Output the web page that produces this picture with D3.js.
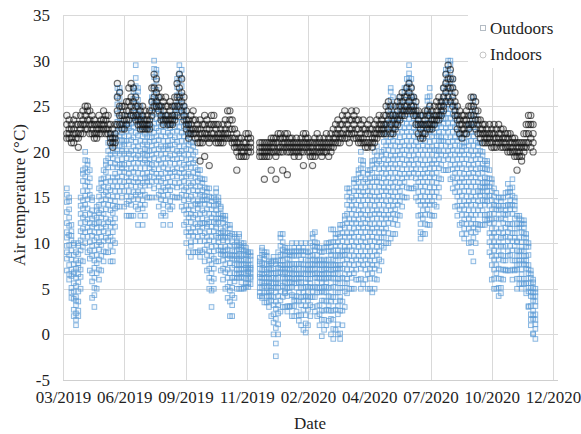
<!DOCTYPE html>
<html>
<head>
<meta charset="utf-8">
<script src="https://cdn.jsdelivr.net/npm/d3@7/dist/d3.min.js"></script>
<style>
  html, body { margin: 0; padding: 0; background: #ffffff; }
  svg { display: block; }
  text { font-family: "Liberation Serif", "Times New Roman", "DejaVu Serif", serif; fill: #1f1f1f; }
</style>
</head>
<body>
<svg id="chart" width="581" height="434"></svg>
<script>
// Axis ticks
const xTickDates = ["2019-03-26", "2019-06-14", "2019-09-02", "2019-11-21", "2020-02-09",
                    "2020-04-29", "2020-07-18", "2020-10-06", "2020-12-25"];
const xTickLabels = ["03/2019", "06/2019", "09/2019", "11/2019", "02/2020",
                     "04/2020", "07/2020", "10/2020", "12/2020"];
const yTicks = [-5, 0, 5, 10, 15, 20, 25, 30, 35];

// Logged readings: one entry every 3 days starting at firstSample,
// each entry lists the air temperatures (°C) logged around that day.
const firstSample = "2019-03-31";
const sampleStepDays = 3;

const outdoorReadings = [
  "16 13.4 11.2 9 8.3 7 10.6 14.5 12.2 15.3 9.7", "15 12.8 10.9 8.7 7.6 6 13.7 14.6 11.9 9.8 6.6",
  "12 10.3 8.2 6.4 5.1 4 9.2 11.3 7.1 4.6 10.8", "10 8.7 6.8 5.6 3.9 2 7.7 9.8 4.7 2.7 6.6",
  "9 7.2 5.3 4.1 3.2 1 2.3 8.1 6.2 1.6 3.7", "10 8.8 6.6 4.7 3.6 2 7.8 9.7 5.7 2.6 7.3",
  "15 12.2 10.3 8.1 6.3 5 13.2 14.1 11.3 9.2 7.1", "18 15.7 13.8 11.6 10.7 8 16.8 17.6 14.7 12.8 9.6",
  "20 17.3 15.2 13.1 12.3 10 18.2 19.1 16.3 14.2 11.2", "19 16.7 14.8 12.6 11.7 9 17.8 18.6 15.7 13.8 10.7",
  "18 15.3 12.2 10.1 8.3 7 13.2 17.1 16.2 11.3 9.2", "15 12.7 10.8 8.6 6.7 4 11.8 14.7 13.6 9.7 5.8",
  "13 10.3 8.1 6.2 4.3 3 11.2 12.1 9.2 7.3 5.1", "14 12.8 10.6 8.7 7.8 5 11.7 13.6 9.8 6.7 12.2",
  "16 14.2 12.3 10.1 8.2 6 13.3 15.1 11.2 9.3 7.1", "17 15.8 13.6 11.7 9.8 7 14.7 16.6 12.8 10.7 8.6",
  "18 16.2 14.3 12.1 10.2 8 15.3 17.1 13.2 11.3 9.1", "19 17.8 15.6 13.7 11.8 9 16.7 18.6 14.8 12.7 10.6",
  "21 18.3 16.1 14.2 12.3 9 17.2 20.1 19.3 15.2 11.1 10.3", "22 19.7 16.8 13.6 10.7 8 18.8 21.6 20.7 15.8 14.7 12.6 11.8 9.7",
  "21 18.3 15.1 12.2 10.3 8 17.2 20.1 19.3 16.2 14.1 13.3 11.2 9.1", "22 19.8 17.6 15.7 13.8 10 20.7 21.6 18.7 16.8 14.6 12.7 11.8",
  "27 24.2 21.3 19.1 17.2 14 22.3 26.1 25.2 23.3 20.1 18.3 16.2 15.1", "27 25.8 22.6 20.7 17.8 14 23.7 26.6 24.8 21.7 19.8 18.6 16.8 15.7",
  "23 21.3 20.1 18.2 17.3 15 19.2 22.1 16.2 20.6 18.7", "23 21.7 19.8 18.6 16.7 14 20.8 22.6 17.8 15.7 21.2",
  "24 22.3 20.1 18.2 16.3 13 21.2 23.1 19.3 17.2 15.1 14.3", "23 21.7 19.8 17.6 15.7 13 20.8 22.6 18.7 16.8 14.6",
  "24 22.3 20.1 18.2 16.3 13 19.2 23.1 21.3 17.2 15.1 14.2", "27 24.8 21.6 19.7 17.8 13 22.7 26.6 25.8 23.7 20.6 18.8 16.7 15.6 14.8",
  "29.5 26.2 23.3 21.1 18.2 14 24.3 28.1 27.2 25.3 22.1 20.2 19.3 17.1 16.2 15.3", "27 24.7 21.8 19.6 16.7 12 22.8 26.6 25.7 23.8 20.6 18.8 17.7 15.6 14.8 13.7",
  "25 23.3 20.1 18.2 15.3 13 21.2 24.1 22.3 19.2 17.1 16.3 14.2", "24 22.7 20.8 17.6 15.7 12 19.8 23.6 21.7 18.8 16.6 14.7 13.8",
  "22 20.3 19.1 17.2 15.3 13 18.2 21.1 16.3 14.2 19.7", "23 21.7 20.8 19.6 17.7 15 18.8 22.6 16.7 20.2 17.1",
  "23 22.3 20.1 18.2 17.3 15 19.2 21.1 16.3 18.7 21.6", "26 23.8 21.6 19.7 17.8 15 20.7 25.6 24.8 22.7 18.6 16.7",
  "30 27.2 24.3 22.1 20.2 16 25.3 29.1 28.2 26.3 23.1 21.2 19.3 18.1 17.2", "29 26.8 23.6 21.7 19.8 15 24.7 28.6 27.8 25.7 22.6 20.8 18.7 17.6 16.8",
  "26 24.2 21.3 19.1 17.2 14 22.3 25.1 23.2 20.3 18.1 16.2 15.3", "25 23.8 20.6 18.7 16.8 13 21.7 24.6 22.8 19.7 17.6 15.7 14.8",
  "24 22.2 19.3 17.1 14.2 12 20.3 23.1 21.2 18.3 16.1 15.2 13.3", "24 22.8 20.6 18.7 15.8 13 21.7 23.6 19.8 17.7 16.6 14.7",
  "23 21.2 20.3 18.1 16.2 14 19.3 22.1 17.2 15.3 20.7", "23 21.8 19.6 17.7 15.8 12 20.7 22.6 18.8 16.7 14.6 13.7",
  "24 22.2 20.3 18.1 16.2 14 21.3 23.1 19.2 17.3 15.1", "25 23.8 21.6 19.7 17.8 15 22.7 24.6 20.8 18.7 16.6",
  "28 25.2 22.3 20.1 18.2 15 23.3 27.1 26.2 24.3 21.1 19.2 17.3 16.1", "29.5 27.8 24.6 22.7 19.8 15 25.7 28.6 26.6 23.8 21.7 20.6 18.8 17.7 16.6",
  "29 26.2 23.3 20.1 17.2 14 24.3 28.1 27.2 25.3 22.1 21.2 19.3 18.1 16.2 15.3", "25 22.8 20.6 17.7 15.8 12 19.7 24.6 23.8 21.7 18.6 16.8 14.7 13.6",
  "24 21.2 18.3 16.1 13.2 10 20.3 23.1 22.2 19.1 17.3 15.2 14.1 12.3 11.2", "23 20.8 17.6 15.7 12.8 9 19.7 22.6 21.8 18.7 16.6 14.8 13.7 11.6 10.8",
  "22 19.2 16.3 14.1 11.2 8.5 18.3 21.1 20.2 17.3 15.1 13.2 12.3 10.1 9.7", "21 18.8 16.6 14.7 12.8 9 19.7 20.6 17.7 15.8 13.6 11.7 10.8",
  "20 17.2 15.3 13.1 11.2 9 18.3 19.1 16.2 14.3 12.1 10.2", "18 16.8 14.6 12.7 11.8 9 15.7 17.6 13.8 10.7 14.2",
  "18 16.2 14.3 12.1 10.2 8.5 15.3 17.1 13.2 11.3 9.2", "17 15.8 13.6 12.7 10.8 9 14.7 16.6 11.7 12.2 15.1",
  "17 15.2 13.3 11.1 10.2 8 14.3 16.1 12.2 9.3 14.7", "16 14.8 12.6 10.7 9.8 7 13.7 15.6 11.8 8.7 12.1",
  "16 13.2 11.3 9.1 7.2 5 12.3 15.1 14.2 10.3 8.1 6.2", "15 12.8 9.6 7.7 5.8 3 10.7 14.6 13.7 11.8 8.6 6.7 4.8",
  "15 13.2 11.3 9.1 7.2 5 12.3 14.1 10.2 8.3 6.1", "16 14.8 13.6 11.7 10.8 8 12.7 15.6 9.7 14.2 12.1",
  "15 13.2 12.3 11.1 9.2 8 14.3 10.1 12.7 14.6 10.6", "14 13.8 11.6 10.7 8.8 7 12.7 9.6 13.2 11.1 9.2",
  "13 12.2 10.3 9.1 7.2 6 11.3 8.1 12.7 10.6 8.7", "13 11.8 9.6 8.7 6.8 5 10.7 12.6 7.7 9.2 11.1",
  "12 10.2 8.3 7.1 5.2 4 9.3 11.1 6.2 8.7 10.6", "12 10.8 8.6 6.7 4.8 2 9.7 11.6 7.8 5.7 3.6",
  "11 9.2 7.3 5.1 3.2 2 8.3 10.1 6.2 4.3 8.7", "11 9.8 8.6 6.7 5.8 4 10.7 7.6 8.2 9.1 6.2",
  "10.5 9.2 8.3 7.1 6.2 5 10.1 8.6 7.7 6.6 9.7", "11 10.7 8.8 7.6 6.7 5 9.8 8.2 7.1 6.2 9.3",
  "10 9.3 8.1 7.2 6.3 5 8.6 7.7 6.6 5.7 9.6", "10 9.7 8.8 7.6 6.7 5 7.1 8.2 6.2 5.1 9.2",
  "9.5 8.2 7.3 6.1 5.2 5.6 8.7 7.6 6.7 9.1", "9 8.8 7.6 6.7 5.6 6.1 7.2 8.1 5.2 6.9",
  "9 8.2 7.3 6.1 5.5 7.6 6.7 8.6 7.1 6.3", "", "", "",
  "8 7.2 6.3 5.1 4.2 6.6 5.7 7.7 4.6 8.4", "9.5 8.7 7.8 6.6 5.7 4 7.1 9.2 6.2 5.1 4.2",
  "9 8.3 7.1 6.2 5.3 3.5 6.6 8.7 7.7 5.6 4.6", "9 7.1 6.2 5.1 4.2 3.5 8.6 7.7 6.8 5.7 4.6",
  "8 7.2 6.1 5.3 4.2 3 6.6 7.7 5.7 4.6 3.6", "8 7.8 6.7 5.6 3.7 2 4.8 7.1 6.2 5.1 4.2",
  "8.5 7.2 5.1 3.2 1.3 0 6.2 8.1 6.7 5.6 4.1 2.2", "8 6.7 4.6 2.8 0.7 -2.4 5.6 7.7 6.1 5.2 3.6 1.7 -1",
  "9 7.3 5.1 3.2 1.1 0 6.2 8.1 6.7 5.6 4.2 2.3", "11 9.7 7.6 6.8 4.7 2.5 8.7 10.6 8.1 7.2 5.6 3.7",
  "11 9.3 8.1 6.2 5.3 3 7.2 10.1 8.7 7.6 6.6 4.1", "9.5 8.7 7.6 6.8 4.5 3 5.7 9.1 7.2 6.1 5.1 4.7",
  "9.5 8.3 6.6 5.1 4.2 2.5 7.2 9.1 7.7 6.2 5.6 3.1", "9 8.7 7.6 5.1 4.6 3 6.7 8.2 7.1 6.2 5.7 3.1",
  "10 8.6 7.2 6.1 4.3 2 5.2 9.1 7.7 6.6 5.7 3.1", "9.5 8.7 6.1 5.6 3.1 2 7.7 9.1 7.2 6.6 4.1 3.7",
  "10 8.6 7.1 5.6 4.2 2.5 6.2 9.1 7.7 6.6 5.1 3.7", "9.5 8.7 6.6 5.7 3.6 1.5 7.7 9.1 7.2 6.1 4.6 2.1",
  "10 8.2 6.6 5.1 3.2 1 4.1 9.1 7.7 6.2 5.7 2.1", "9.5 8.7 6.6 4.1 3.7 0.5 7.6 9.1 7.2 5.1 4.6 2.7",
  "10 8.2 6.1 4.2 2.1 0.2 5.2 9.1 7.2 6.6 5.7 3.1 1.2", "9 7.1 6.6 4.1 3.7 1 5.2 8.1 7.6 6.1 4.6 2.7",
  "10 8.6 7.2 5.6 4.1 2 6.6 9.1 7.7 6.1 5.2 3.2", "11 9.7 7.1 6.6 4.1 3 8.7 10.6 8.2 7.6 5.1 4.7",
  "11.2 9.6 8.1 6.2 4.1 2.5 7.2 10.1 9.2 7.7 6.6 5.2", "10 8.1 7.6 5.7 3.1 2 6.7 9.6 8.7 6.2 5.1 4.6",
  "9.5 8.2 6.1 4.6 3.2 1 7.1 9.1 7.7 6.6 5.1 2.2", "9 7.1 6.6 4.7 2.6 -0.2 5.7 8.1 7.6 6.2 5.1 3.7 1.6",
  "9.5 8.2 6.1 4.6 2.6 0.5 7.1 9.1 7.7 6.6 5.2 3.7 1.6", "10 8.1 7.6 5.7 3.6 1 6.7 9.6 7.2 6.1 5.2 4.6 2.7",
  "10 8.2 6.6 5.1 3.2 1.5 7.6 9.1 7.1 6.2 4.2 2.6", "11.5 9.1 7.1 5.1 3.6 0 8.7 10.1 9.6 7.6 6.2 4.1 2.6 1.7",
  "11.5 9.2 7.1 5.2 2.6 -0.5 6.1 10.1 8.2 7.6 6.6 4.1 1.6 0.6", "11 9.7 7.6 5.7 3.6 0.5 8.6 10.6 8.1 7.2 6.7 4.6 2.7",
  "11 9.2 7.6 5.6 3.1 0 6.6 10.1 8.7 7.2 6.1 4.6 2.2 1.1", "12 10.7 8.6 5.1 3.7 -0.5 7.6 11.6 9.7 7.2 6.1 4.1 2.6 0.1",
  "12 10.2 8.1 6.2 3.6 1 9.1 11.1 8.7 7.2 5.1 2.6", "13 11.7 9.6 7.7 5.6 3 10.7 12.6 8.7 6.6 4.7 9.2",
  "16 13.2 11.1 9.2 7.1 4.5 12.2 15.1 14.2 10.1 8.2 6.1 5.6", "16 14.7 12.6 10.7 8.6 5 13.7 15.6 11.7 9.6 7.7 6.6",
  "15 13.2 11.1 9.2 7.1 5 12.2 14.1 10.2 8.1 6.2", "17 14.7 12.6 10.7 8.6 5 13.7 16.6 15.7 11.6 9.7 7.6 6.7",
  "17 15.2 13.1 11.2 9.1 6 14.2 16.1 12.2 10.1 8.2 7.1", "18 15.7 13.6 11.7 8.6 6 14.7 17.6 16.7 12.6 10.7 9.6 7.7",
  "20 17.2 14.1 11.2 8.1 5 15.2 19.1 18.2 16.1 13.2 12.1 10.2 9.1 7.2 6.1", "19 16.7 13.6 11.7 8.6 5.5 14.7 18.6 17.7 15.6 12.7 10.6 9.7 7.6",
  "17 15.2 13.1 11.2 9.1 6 12.2 16.1 14.2 10.1 8.2 7.1", "18 15.7 13.6 10.7 8.6 5 14.7 17.6 16.7 12.6 11.7 9.6 7.7 6.6",
  "18 16.2 13.1 11.2 8.1 5 15.2 17.1 14.2 12.1 10.2 9.1 7.2 6.1", "19 16.7 13.6 10.7 7.6 4.6 14.7 18.6 17.7 15.6 12.7 11.6 9.7 8.6 6.7",
  "20 17.2 14.1 11.2 8.1 5 16.2 19.1 18.2 15.1 13.2 12.1 10.2 9.1 7.2 6.1", "20.6 18.7 15.6 12.7 9.6 6 16.7 19.6 17.2 14.7 13.6 11.7 10.6 8.7 7.6",
  "19 17.2 15.1 13.2 10.1 7 16.2 18.1 14.2 12.1 11.2 9.1 8.2", "20 18.7 16.6 14.7 11.6 8 17.7 19.6 15.7 13.6 12.7 10.6 9.7",
  "22 20.2 17.1 15.2 12.1 9.5 18.2 21.1 19.2 16.1 14.2 13.1 11.2 10.6", "23 21.7 18.6 16.7 13.6 10 19.7 22.6 20.7 17.6 15.7 14.6 12.7 11.6",
  "25 22.2 19.1 17.2 14.1 10 20.2 24.1 23.2 21.1 18.2 16.1 15.2 13.1 12.2 11.1", "27 24.7 21.6 18.7 15.6 10.5 22.7 26.6 25.7 23.6 20.7 19.6 17.7 16.6 14.7 13.6 12.7",
  "26 23.2 20.1 18.2 15.1 11 21.2 25.1 24.2 22.1 19.2 17.1 16.2 14.1 13.2 12.1", "24 22.7 19.6 17.7 14.6 11 20.7 23.6 21.7 18.6 16.7 15.6 13.7 12.6",
  "25 22.2 20.1 17.2 15.1 12 19.2 24.1 23.2 21.1 18.2 16.1 14.2 13.1", "26 23.7 21.6 19.7 16.6 13 22.7 25.6 24.7 20.6 18.7 17.6 15.7 14.6",
  "25 23.2 21.1 19.2 17.1 14 20.2 24.1 22.2 18.1 16.2 15.1", "27 24.7 22.6 20.7 18.6 15 21.7 26.6 25.7 23.6 19.7 17.6 16.7",
  "28 25.2 23.1 21.2 18.1 15 22.2 27.1 26.2 24.1 20.2 19.1 17.2 16.1", "29.5 27.7 24.6 22.7 19.6 16 25.7 28.6 28.1 26.7 23.6 21.7 20.6 18.7 17.6",
  "28 25.2 23.1 21.2 19.1 16 22.2 27.1 26.2 24.1 20.2 18.1 17.2", "26 24.7 22.6 20.7 18.6 16 21.7 25.6 23.7 19.6 17.7",
  "25 23.2 21.1 19.2 17.1 15 20.2 24.1 22.2 18.1 16.2", "24 22.7 20.6 18.7 15.6 13 19.7 23.6 21.7 17.6 16.7 14.6",
  "24 21.2 18.1 16.2 13.1 10.5 20.2 23.1 22.2 19.1 17.2 15.1 14.2 12.1 11.2", "23 21.7 18.6 16.7 13.6 11 19.7 22.6 20.7 17.6 15.7 14.6 12.7",
  "24 22.2 19.1 16.2 13.1 11 20.2 23.1 21.2 18.1 17.2 15.1 14.2 12.1", "26 23.7 20.6 17.7 14.6 12 21.7 25.6 24.7 22.6 19.7 18.6 16.7 15.6 13.7",
  "27 24.2 21.1 18.2 15.1 12 22.2 26.1 25.2 23.1 20.2 19.1 17.2 16.1 14.2 13.1", "24 22.7 20.6 18.7 15.6 13 19.7 23.6 21.7 17.6 16.7 14.6",
  "23 21.2 19.1 17.2 15.1 13 20.2 22.1 18.2 16.1 14.2", "23 21.7 19.6 18.7 16.6 14 20.7 22.6 17.7 15.6 20.2",
  "24 22.2 20.1 18.2 17.1 15 21.2 23.1 19.2 16.1 21.7", "25.5 23.7 21.6 20.7 18.6 17 22.7 24.6 24.1 19.7 21.2",
  "27 25.2 23.1 21.2 19.1 18 24.2 26.1 22.2 20.1 23.6", "29 27.7 25.6 23.7 21.6 18 24.7 28.6 26.7 22.6 20.7 19.6",
  "30 28.2 26.1 24.2 21.1 18 25.2 29.1 27.2 23.1 22.2 20.1 19.2", "30 27.7 25.6 23.7 20.6 17 24.7 29.6 28.7 26.6 22.7 21.6 19.7 18.6",
  "28 25.2 23.1 21.2 19.1 16 22.2 27.1 26.2 24.1 20.2 18.1 17.2", "25 23.7 21.6 19.7 16.6 14 20.7 24.6 22.7 18.6 17.7 15.6",
  "24 22.2 20.1 18.2 15.1 13 19.2 23.1 21.2 17.1 16.2 14.1", "22 20.7 18.6 16.7 14.6 12 17.7 21.6 19.7 15.6 13.7",
  "21.5 19.2 17.1 15.2 13.1 11 16.2 20.6 20.1 18.2 14.1 12.2", "21 19.7 17.6 15.7 12.6 10.5 16.7 20.6 18.7 14.6 13.7 11.6",
  "22 20.2 18.1 16.2 13.1 11 17.2 21.1 19.2 15.1 14.2 12.1", "23 21.7 18.6 16.7 13.6 10 19.7 22.6 20.7 17.6 15.7 14.6 12.7 11.6",
  "24 21.2 19.1 16.2 13.1 9 17.2 23.1 22.2 20.1 18.2 15.1 14.2 12.1 11.2 10.1", "26 22.7 19.6 16.7 12.6 8 20.7 25.6 24.7 23.6 21.7 18.6 17.7 15.6 14.7 13.6 11.7 10.6",
  "24 21.2 18.1 16.2 13.1 10 19.2 23.1 22.2 20.1 17.2 15.1 14.2 12.1 11.2", "21 19.7 17.6 15.7 13.6 11.5 16.7 20.6 18.7 14.6 12.1",
  "21 19.2 17.1 15.2 14.1 12 16.2 20.1 18.2 13.1 15.6", "20 18.7 16.6 15.7 13.6 12 17.7 19.6 14.7 16.1 18.2",
  "19 17.2 16.1 14.2 13.1 12 15.2 18.1 14.6 16.7 12.6", "19 17.1 16.6 15.7 14.6 12.5 18.7 13.1 16.2 15.1 18.1",
  "18 16.2 14.1 12.2 11.1 9 15.2 17.1 13.2 10.1 12.6", "17 15.7 12.6 10.7 8.6 6 13.7 16.6 14.7 11.6 9.7 7.6",
  "16 13.2 11.1 9.2 7.1 5 12.2 15.1 14.2 10.1 8.2 6.1", "15.5 13.7 11.6 9.7 7.6 5 10.7 14.6 14.1 12.7 8.6 6.7",
  "15 12.6 10.1 8.2 6.1 4.2 11.2 14.1 13.6 9.1 7.2 5.1", "15 13.7 11.6 9.7 6.1 4.5 12.7 14.6 10.6 8.7 7.1 5.1",
  "15 13.2 11.1 9.6 8.1 6 12.2 14.1 10.6 8.6 7.1", "15.5 13.1 12.6 10.7 8.1 7 11.7 14.1 13.6 9.7 7.1",
  "16.5 14.2 12.1 10.2 8.6 7 13.2 15.6 15.1 11.2 9.1", "16 14.7 12.1 11.6 9.7 7 13.7 15.6 10.6 8.7 14.1",
  "17 14.2 12.1 10.2 8.1 6 15.2 16.1 13.2 11.1 9.2 7.1", "15 13.7 11.1 10.6 8.1 7 12.7 14.6 9.7 7.1 14.1",
  "13 11.6 10.1 8.6 7.1 5 10.2 12.1 9.2 6.1 7.6", "13 11.7 9.1 8.6 7.7 5.5 10.6 12.7 8.1 6.1 12.1",
  "12.5 11.2 9.6 8.1 6.6 5 9.2 12.1 10.1 7.1 5.6", "12.5 11.7 9.1 8.6 7.7 5.5 10.6 12.1 8.1 6.1 11.1",
  "11 9.6 8.1 7.2 6.1 4.5 8.6 10.6 10.1 5.6 7.6", "10 8.7 7.6 6.7 5.6 3 4.7 9.6 7.1 5.1 3.1",
  "7 6.2 5.1 4.2 3.1 1 2.2 6.6 5.6 4.6 1.6", "6 5.7 4.6 3.7 2.6 0 1.7 5.1 4.1 2.1 0.1",
  "5 4.2 3.1 2.2 1.1 -0.5 0.6 4.6 3.6 1.6"
];

const indoorReadings = [
  "24 23 22 21.5", "23.5 22.5 22 21.5", "23 22.5 21.5 21", "23.5 22.5 22 21",
  "24 23 22 21.5", "23 22 21.5 20.5", "24 23 22.5 22", "24.5 23.5 23 22",
  "25 24 23 22.5", "25 24.5 23.5 22.5", "24.5 23.5 23 22", "24 23 22.5 22",
  "23.5 23 22 21.5", "23 22.5 22 21.5", "24 23 22.5 22", "23.5 23 22.5 22",
  "24.5 23.5 23 22.5", "24 23.5 22.5 22", "24 23 22.5 22", "23 22 21.5 21",
  "22.5 21.5 21 20.5", "23 22 21.5 21", "27.5 26 24.5 23", "26.5 25 24 23",
  "25 24 23 22.5", "25 24 23.5 22.5", "25.5 24.5 23.5 23", "27 25.5 24.5 23.5",
  "27.5 26 25 24", "27 25.5 24.5 24", "26 25 24 23.5", "25 24 23.5 23",
  "24.5 23.5 23 22.5", "25 24 23 22.5", "24.5 23.5 23 22.5", "24 23.5 23 22.5",
  "24.5 23.5 23 22.5", "27 25.5 24.5 24", "28.5 27 26 25", "28 26.5 25.5 25",
  "27 26 25 24.5", "26 25 24 23.5", "25.5 24.5 23.5 23", "26 25 24 23.5",
  "25 24 23.5 23", "25.5 24.5 23.5 23", "25 24 23.5 23", "26 25 24 23.5",
  "27.5 26 25 24", "28.5 27 26 25", "28 26.5 25.5 24.5", "26 25 24 23.5",
  "24.5 23.5 23 22.5", "23.5 23 22 21.5", "24 23 22.5 22", "24.5 23.5 22.5 22",
  "23.5 22.5 22 21.5", "23 22.5 21.5 21", "23.5 22.5 22 21 19", "23 22 21.5 21",
  "24 23 22 21.5 19.5", "23.5 22.5 22 21.5", "23 22.5 21.5 21 18.5", "24 23 22 21.5",
  "24 23 22 21.5", "23 22.5 21.5 21", "23 22 21.5 21", "22.5 22 21.5 21",
  "23 22 21.5 21", "23.5 22.5 22 21.5", "24.5 23 22 21.5", "24.5 23.5 22.5 21.5",
  "23.5 22.5 21.5 21", "22.5 21.5 21 20.5", "22 21 20.5 20 18", "21.5 21 20.5 19.5",
  "21.5 20.5 20 19.5", "21 20.5 20 19.5", "22 21 20.5 19.5", "22 21.5 20.5 20",
  "21.5 21 20.5 20", "", "", "",
  "21 20.5 20 19.5", "21 20.5 20 19.5", "21 20.5 20 19.5 17", "21 20.5 20 19.5",
  "21 20.5 20 19.5", "21.5 21 20.5 20 18", "21.5 21 20.5 20", "21.5 21 20 19.5 17",
  "22 21 20.5 20", "22 21.5 20.5 20", "21.5 21 20.5 20 18", "22 21.5 21 20.5",
  "22 21 20.5 20 17.5", "21.5 21 20.5 20", "21.5 21 20.5 20", "21 20.5 20 19.5",
  "21.5 21 20.5 20", "21 20.5 20 19.5", "21.5 21 20.5 20", "22 21 20.5 20 18.5",
  "22 21.5 21 20.5", "21.5 21 20.5 20", "21 20.5 20 19.5", "21 20.5 20 19.5 18.5",
  "21.5 21 20 19.5", "22 21 20.5 20", "21.5 21 20.5 20", "21 20.5 20 19.5",
  "21.5 21 20.5 20", "22 21 20.5 20", "21.5 21 20.5 19.5", "22 21 20.5 20",
  "22.5 21.5 21 20.5", "23 22 21.5 21", "23.5 22.5 22 21", "23 22 21.5 21",
  "24 23 22 21.5", "24.5 23.5 22.5 21.5", "24 23 22 21.5", "23.5 22.5 22 21",
  "24.5 23.5 22.5 22", "24 23 22 21.5", "24.5 23.5 22.5 21.5", "23.5 22.5 21.5 21",
  "23 22 21.5 21", "23.5 22.5 21.5 21", "22.5 22 21 20.5", "23 22 21 20.5",
  "23.5 22.5 22 21", "22.5 21.5 21 20.5", "23 22 21.5 21", "23.5 22.5 22 21.5",
  "24 23 22.5 22", "23.5 23 22.5 22", "24 23 22.5 22", "25 24 23 22",
  "25.5 24.5 23.5 22.5", "25 24 23 22", "24 23.5 22.5 22", "25 24 23 22.5",
  "25.5 24.5 23.5 23", "26 25 24 23.5", "26.5 25.5 24.5 24", "26 25 24.5 24",
  "27 26 25 24.5", "27.5 26.5 25.5 24.5", "27 26 25 24.5", "26 25 24.5 24",
  "25.5 24.5 24 23", "24.5 23.5 23 22", "24 23 22.5 21.5", "24 23 22 21.5",
  "24.5 23.5 23 22", "24.5 24 23 22.5", "25 24 23 22.5", "24.5 23.5 23 22.5",
  "25 24 23.5 23", "25.5 24.5 24 23.5", "26 25 24 23.5", "25.5 25 24.5 24",
  "27 26 25 24.5", "28.5 27.5 26.5 25.5", "29.5 28 27 26", "29 28 27 25.5",
  "28 27 26 25", "26.5 25.5 24.5 24", "25 24 23.5 22.5", "24.5 23.5 23 22",
  "24 23 22.5 21.5", "24 23.5 22.5 22", "24.5 23.5 23 22", "25 24 23 22.5",
  "26 25 24 23", "26 25 24 23", "25.5 24.5 23.5 22.5", "24.5 23.5 23 22",
  "23.5 22.5 22 21.5", "23 22.5 22 21", "23 22 21.5 21", "22.5 22 21.5 21",
  "23 22 21.5 21", "22.5 22 21 20.5", "23 22 21.5 20.5", "22.5 21.5 21 20.5",
  "23 22 21.5 21", "22.5 22 21 20.5", "22.5 21.5 21 20.5", "22 21.5 21 20.5",
  "22 21.5 20.5 20", "22 21 20.5 20", "21.5 21 20.5 20", "21.5 21 20 19.5",
  "21 20.5 20 19.5 18", "21 20.5 20 19.5", "21 20.5 19.5 19", "22 21 20.5 20",
  "23 22 21 20.5", "24 23 22 21", "24 23 21.5 20.5", "23 22 21 20",
  ""
];

const seriesNames = ["Outdoors", "Indoors"];

// ---- layout ----
const svg = d3.select("#chart");
const plot = { left: 63, right: 558, top: 15, bottom: 380, lastTickX: 553 };
const fontStack = '"Liberation Serif", "Times New Roman", "DejaVu Serif", serif';

const parseDay = d3.utcParse("%Y-%m-%d");
const tickDates = xTickDates.map(parseDay);
const x = d3.scaleUtc()
  .domain([tickDates[0], tickDates[tickDates.length - 1]])
  .range([plot.left, plot.lastTickX]);
const y = d3.scaleLinear().domain([-5, 35]).range([plot.bottom, plot.top]);

function toPoints(readings) {
  const start = parseDay(firstSample);
  const pts = [];
  readings.forEach((s, i) => {
    if (!s.trim()) return;
    const date = d3.utcDay.offset(start, i * sampleStepDays);
    s.trim().split(/\s+/).map(Number).forEach(v => pts.push({ date, value: v }));
  });
  return pts;
}
const outdoorPts = toPoints(outdoorReadings);
const indoorPts = toPoints(indoorReadings);

// ---- grid + axes ----
const gridColor = "#d9d9d9";

const yAxis = d3.axisLeft(y)
  .tickValues(yTicks)
  .tickSize(-(plot.right - plot.left))
  .tickPadding(13)
  .tickFormat(d => String(d));
const gy = svg.append("g").attr("transform", `translate(${plot.left},0)`).call(yAxis);
gy.select(".domain").remove();
gy.selectAll(".tick line").attr("stroke", gridColor).attr("shape-rendering", "crispEdges");
gy.selectAll(".tick text").attr("font-size", 17).attr("fill", "#1f1f1f")
  .style("font-family", fontStack);

const xAxis = d3.axisBottom(x)
  .tickValues(tickDates)
  .tickSize(-(plot.bottom - plot.top))
  .tickPadding(11)
  .tickFormat((d, i) => xTickLabels[i]);
const gx = svg.append("g").attr("transform", `translate(0,${plot.bottom})`).call(xAxis);
gx.select(".domain").remove();
gx.selectAll(".tick line").attr("stroke", gridColor).attr("shape-rendering", "crispEdges");
gx.selectAll(".tick text").attr("font-size", 17).attr("fill", "#1f1f1f")
  .style("font-family", fontStack);

// bottom axis line
svg.append("line")
  .attr("x1", plot.left).attr("x2", plot.right)
  .attr("y1", plot.bottom).attr("y2", plot.bottom)
  .attr("stroke", "#cfcfcf").attr("shape-rendering", "crispEdges");

// ---- series (outdoors first, indoors drawn over it) ----
const sq = 4.6;
svg.append("g").attr("class", "outdoors")
  .selectAll("rect").data(outdoorPts).join("rect")
  .attr("x", d => x(d.date) - sq / 2)
  .attr("y", d => y(d.value) - sq / 2)
  .attr("width", sq).attr("height", sq)
  .attr("fill", "#5b9bd5")
  .attr("fill-opacity", 0.08)
  .attr("stroke", "#5b9bd5")
  .attr("stroke-opacity", 0.7)
  .attr("stroke-width", 1);

svg.append("g").attr("class", "indoors")
  .selectAll("circle").data(indoorPts).join("circle")
  .attr("cx", d => x(d.date))
  .attr("cy", d => y(d.value))
  .attr("r", 3.1)
  .attr("fill", "#141414")
  .attr("fill-opacity", 0.06)
  .attr("stroke", "#141414")
  .attr("stroke-opacity", 0.62)
  .attr("stroke-width", 1.15);

// ---- legend ----
const lg = svg.append("g").attr("class", "legend");
lg.append("rect").attr("x", 468).attr("y", 8).attr("width", 110).attr("height", 60).attr("fill", "#ffffff");
lg.append("rect").attr("x", 480.5).attr("y", 25.5).attr("width", 5).attr("height", 5)
  .attr("fill", "none").attr("stroke", "#b4bcc4");
lg.append("circle").attr("cx", 483).attr("cy", 55).attr("r", 3)
  .attr("fill", "none").attr("stroke", "#c4c4c4");
lg.append("text").attr("x", 490).attr("y", 34).attr("font-size", 17).text(seriesNames[0]);
lg.append("text").attr("x", 490).attr("y", 60).attr("font-size", 17).text(seriesNames[1]);

// ---- axis titles ----
svg.append("text")
  .attr("transform", "translate(25,195) rotate(-90)")
  .attr("text-anchor", "middle").attr("font-size", 17)
  .text("Air temperature (°C)");
svg.append("text")
  .attr("x", 310).attr("y", 429)
  .attr("text-anchor", "middle").attr("font-size", 17)
  .text("Date");
</script>
</body>
</html>
